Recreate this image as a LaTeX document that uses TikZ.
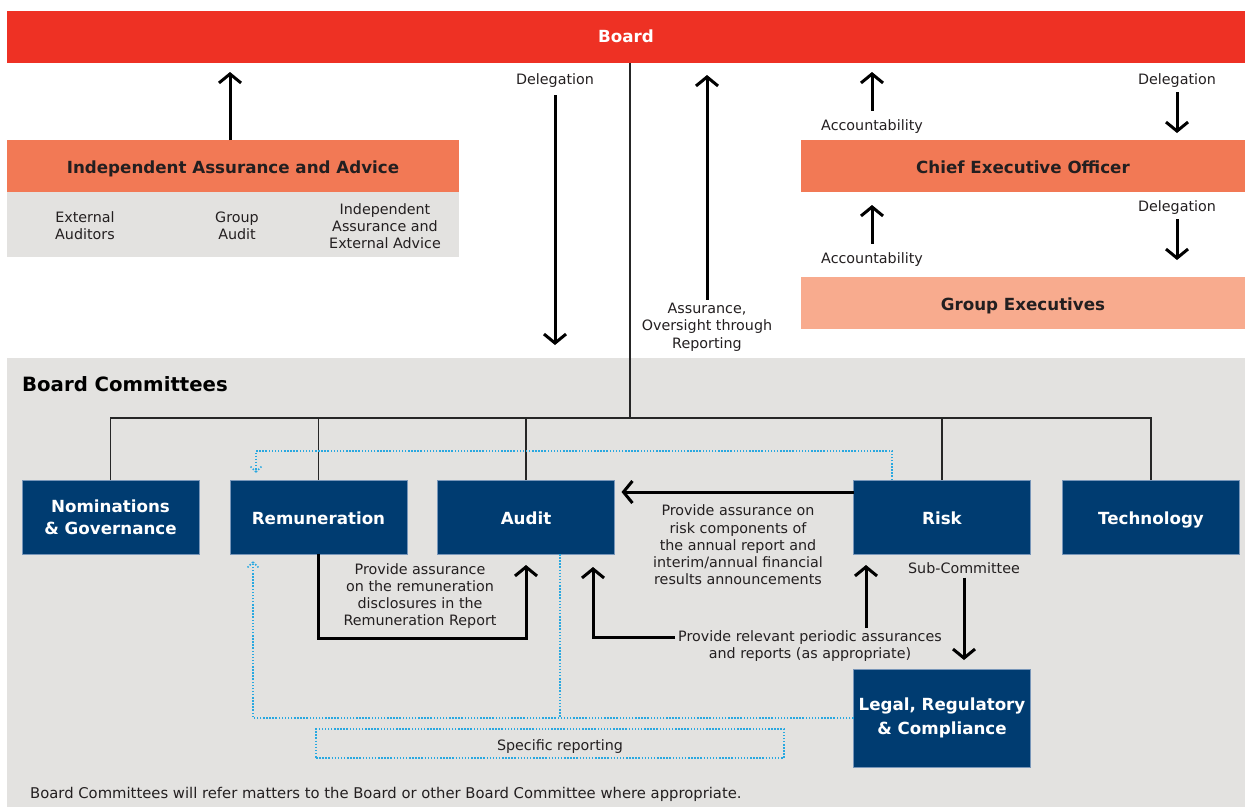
\documentclass[tikz,border=0pt]{standalone}
\usepackage{fontspec}
\setmainfont{DejaVu Sans}
\usetikzlibrary{arrows.meta,calc}
\definecolor{boardred}{RGB}{238,49,36}
\definecolor{orng}{RGB}{242,121,85}
\definecolor{salmon}{RGB}{248,171,142}
\definecolor{lgrey}{RGB}{227,226,224}
\definecolor{navy}{RGB}{0,60,113}
\definecolor{navyedge}{RGB}{120,150,185}
\definecolor{dotblue}{RGB}{41,168,224}
\definecolor{txt}{RGB}{35,31,32}
\begin{document}
\begin{tikzpicture}[x=1pt,y=-1pt,
  font=\fontsize{14.3}{17.3}\selectfont,
  band/.style={inner sep=0pt, outer sep=0pt, font=\bfseries\fontsize{16.7}{20}\selectfont, text=txt, text height=14pt, text depth=0pt},
  cbox/.style={fill=navy, draw=navyedge, line width=0.6pt, text=white, font=\bfseries\fontsize{16.7}{22}\selectfont, align=center, minimum width=177pt, minimum height=74pt, inner sep=0pt, outer sep=0pt},
  onel/.style={text height=14pt, text depth=0pt},
  lbl/.style={text=txt, align=center, inner sep=1pt},
  arr/.style={line width=3pt, line join=miter, -{Straight Barb[length=9pt,width=22pt]}},
  thin/.style={line width=1.2pt, draw=black!85},
  dot/.style={draw=dotblue, line width=1.5pt, dash pattern=on 1.5pt off 1.6pt}
]
\useasboundingbox (0,0) rectangle (1245,807);
\fill[white] (0,0) rectangle (1245,807);

% committees background
\node[fill=lgrey, minimum width=1238pt, minimum height=449pt, inner sep=0pt, outer sep=0pt] (bc) at (626,582.5) {};

% top bands
\node[band, fill=boardred, text=white, minimum width=1238pt, minimum height=52pt, text height=10pt] (board) at (626,37) {Board};
\node[band, fill=orng, minimum width=452pt, minimum height=52pt] (iaa) at (233,166) {Independent Assurance and Advice};
\node[band, fill=lgrey, minimum width=452pt, minimum height=65pt] (iaasub) at (233,224.5) {};
\node[lbl] (ext) at (85,226) {External\\Auditors};
\node[lbl] (grp) at (237,226) {Group\\Audit};
\node[lbl] (ind) at (385,226) {Independent\\Assurance and\\External Advice};
\node[band, fill=orng, minimum width=444pt, minimum height=52pt] (ceo) at (1023,166) {Chief Executive Officer};
\node[band, fill=salmon, minimum width=444pt, minimum height=52pt] (ge) at (1023,303) {Group Executives};

% labels top
\node[lbl] (dlg) at (555,81) {Delegation};
\node[lbl] (asr) at (707,327) {Assurance,\\Oversight through\\Reporting};
\node[lbl] (acc1) at (872,127) {Accountability};
\node[lbl] (dl2) at (1177,81) {Delegation};
\node[lbl] (acc2) at (872,260) {Accountability};
\node[lbl] (dl3) at (1177,208) {Delegation};

% top arrows
\draw[arr, shorten >=9pt] (iaa.north -| 230,0) -- (board.south -| 230,0);
\draw[arr, shorten <=6pt, shorten >=13pt] (dlg.south) -- (dlg.south |- bc.north);
\draw[arr, shorten <=2pt, shorten >=12pt] (asr.north) -- (asr.north |- board.south);
\draw[arr, shorten <=8pt, shorten >=9pt] (acc1.north) -- (acc1.north |- board.south);
\draw[arr, shorten <=3pt, shorten >=7pt] (dl2.south) -- (dl2.south |- ceo.north);
\draw[arr, shorten <=8pt, shorten >=13pt] (acc2.north) -- (acc2.north |- ceo.south);
\draw[arr, shorten <=3pt, shorten >=17pt] (dl3.south) -- (dl3.south |- ge.north);

% committees
\node[anchor=west, inner sep=0pt, font=\bfseries\fontsize{19.7}{22}\selectfont] (bct) at (22,384) {Board Committees};
\node[cbox] (nom) at (110.5,517) {Nominations\\\& Governance};
\node[cbox, onel] (rem) at (318.5,517) {Remuneration};
\node[cbox, onel] (aud) at (526,517) {Audit};
\node[cbox, onel] (risk) at (942,517) {Risk};
\node[cbox, onel] (tech) at (1151,517) {Technology};
\node[cbox, minimum height=98pt, font=\bfseries\fontsize{16.7}{24}\selectfont] (legal) at (942,718) {Legal, Regulatory\\\& Compliance};

% bus
\coordinate (bj) at (630,418);
\draw[thin] (board.south -| bj) -- (bj);
\draw[thin] (nom.north) -- (nom.north |- bj) -- (tech.north |- bj) -- (tech.north);
\draw[thin] (rem.north) -- (rem.north |- bj);
\draw[thin] (aud.north) -- (aud.north |- bj);
\draw[thin] (risk.north) -- (risk.north |- bj);

% risk -> audit
\draw[arr, shorten >=7pt] ([yshift=25pt]risk.west) -- ([yshift=25pt]risk.west -| aud.east);
\node[lbl] (rlab) at (738,545) {Provide assurance on\\risk components of\\the annual report and\\interim/annual financial\\results announcements};

% rem -> audit
\draw[arr, shorten >=11pt] (rem.south) -- ++(0,84) -| (aud.south);
\node[lbl] (remlab) at (420,596) {Provide assurance\\on the remuneration\\disclosures in the\\Remuneration Report};

% periodic
\node[lbl] (per) at (810,646) {Provide relevant periodic assurances\\and reports (as appropriate)};
\coordinate (pj) at ($(per.north west)+(-2,8)$);
\draw[arr, shorten >=13pt] (pj) -| ([xshift=67pt]aud.south);
\coordinate (pk2) at (866,628);
\draw[arr, shorten >=11pt] (pk2) -- (pk2 |- risk.south);

% sub-committee
\node[lbl] (sub) at (964,568) {Sub-Committee};
\draw[arr, shorten <=3pt, shorten >=9pt] (sub.south) -- (sub.south |- legal.north);

% dotted
\draw[dot, shorten >=8pt] ([xshift=-50pt]risk.north) -- ++(0,-29) -| ([xshift=-62.5pt]rem.north);
\draw[dot] ([xshift=-62.5pt,yshift=8pt]rem.north) coordinate (dh1) -- ++(-6,-6) (dh1) -- ++(6,-6);
\draw[dot, shorten >=8pt] (legal.west) -| ([xshift=-65.5pt]rem.south);
\draw[dot] ([xshift=-65.5pt,yshift=-8pt]rem.south) coordinate (dh2) -- ++(-6,6) (dh2) -- ++(6,6);
\draw[dot] ([xshift=34pt]aud.south) -- ([xshift=34pt]aud.south |- legal.west);
\node[dot, minimum width=468pt, minimum height=29pt, inner sep=0pt] (spec) at (550,743.5) {};
\node[lbl] (speclab) at (560,747) {Specific reporting};

% footer
\node[lbl, anchor=west, font=\fontsize{14.8}{17.3}\selectfont] (foot) at (29,794) {Board Committees will refer matters to the Board or other Board Committee where appropriate.};
\end{tikzpicture}
\end{document}
